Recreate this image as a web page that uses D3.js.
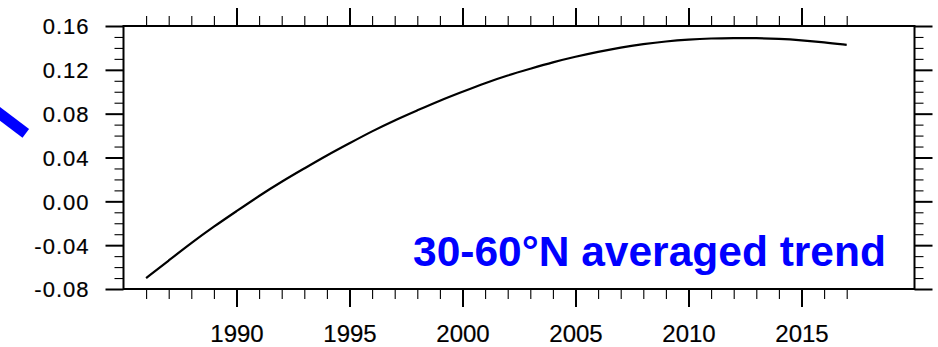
<!DOCTYPE html>
<html>
<head>
<meta charset="utf-8">
<script src="https://cdn.jsdelivr.net/npm/d3@7"></script>
<style>
  html, body { margin: 0; padding: 0; background: #fff; }
  svg { display: block; }
  text { font-family: "Liberation Sans", Arial, Helvetica, sans-serif; }
</style>
</head>
<body>
<svg id="chart" width="938" height="347"></svg>
<script>
// ---- data ----
const years = [1986,1987,1988,1989,1990,1991,1992,1993,1994,1995,1996,1997,1998,1999,2000,
               2001,2002,2003,2004,2005,2006,2007,2008,2009,2010,2011,2012,2013,2014,2015,2016,2017];
const trend = [-0.070,-0.054,-0.038,-0.023,-0.009,0.005,0.018,0.030,0.042,0.053,0.064,0.074,0.083,0.092,0.100,
               0.108,0.115,0.121,0.127,0.132,0.1365,0.1405,0.1435,0.146,0.1477,0.1487,0.149,0.149,0.1483,0.147,0.1452,0.1428];
const xMajorTicks = [1990,1995,2000,2005,2010,2015];
const xMajorLabels = ["1990","1995","2000","2005","2010","2015"];
const xMinorTicks = [1986,1987,1988,1989,1991,1992,1993,1994,1996,1997,1998,1999,2001,2002,2003,2004,
                     2006,2007,2008,2009,2011,2012,2013,2014,2016,2017];
const yMajorTicks = [-0.08,-0.04,0.00,0.04,0.08,0.12,0.16];
const yMajorLabels = ["-0.08","-0.04","0.00","0.04","0.08","0.12","0.16"];
const yMinorTicks = [-0.07,-0.06,-0.05,-0.03,-0.02,-0.01,0.01,0.02,0.03,0.05,0.06,0.07,0.09,0.10,0.11,0.13,0.14,0.15];
const xDomain = [1985, 2020];
const yDomain = [-0.08, 0.16];
const annotation = "30-60°N averaged trend";

// ---- layout ----
const svg = d3.select("#chart");
const L = 123.5, R = 914.5, T = 26, B = 289;
const x = d3.scaleLinear().domain(xDomain).range([L, R]);
const y = d3.scaleLinear().domain(yDomain).range([B, T]);

// blue annotation stroke (cropped arrow at left edge)
svg.append("line")
  .attr("x1", -6).attr("y1", 109.5).attr("x2", 25.8).attr("y2", 133.3)
  .attr("stroke", "#0000ff").attr("stroke-width", 11);

function styleAxis(g, w) {
  g.select(".domain").remove();
  g.selectAll(".tick line").attr("stroke", "#000").attr("stroke-width", w);
}
function styleLabels(g, size, spacing) {
  g.selectAll("text").attr("fill", "#000").attr("stroke", "#000").attr("stroke-width", 0.2)
    .style("font-size", size).style("letter-spacing", spacing);
}

// left axis
svg.append("g").attr("transform", `translate(${L},0)`)
  .call(d3.axisLeft(y).tickValues(yMinorTicks).tickSize(9).tickSizeOuter(0).tickFormat(""))
  .call(g => styleAxis(g, 1.1));
svg.append("g").attr("transform", `translate(${L},0)`)
  .call(d3.axisLeft(y).tickValues(yMajorTicks).tickSize(18).tickSizeOuter(0).tickPadding(16)
        .tickFormat((d, i) => yMajorLabels[i]))
  .call(g => styleAxis(g, 2))
  .call(g => styleLabels(g, "22px", "1px"))
  .call(g => g.selectAll("text").attr("dy", "0.36em"));

// right axis
svg.append("g").attr("transform", `translate(${R},0)`)
  .call(d3.axisRight(y).tickValues(yMinorTicks).tickSize(9).tickSizeOuter(0).tickFormat(""))
  .call(g => styleAxis(g, 1.1));
svg.append("g").attr("transform", `translate(${R},0)`)
  .call(d3.axisRight(y).tickValues(yMajorTicks).tickSize(18).tickSizeOuter(0).tickFormat(""))
  .call(g => styleAxis(g, 2));

// top axis
svg.append("g").attr("transform", `translate(0,${T})`)
  .call(d3.axisTop(x).tickValues(xMinorTicks).tickSize(10).tickSizeOuter(0).tickFormat(""))
  .call(g => styleAxis(g, 1.1));
svg.append("g").attr("transform", `translate(0,${T})`)
  .call(d3.axisTop(x).tickValues(xMajorTicks).tickSize(18).tickSizeOuter(0).tickFormat(""))
  .call(g => styleAxis(g, 2));

// bottom axis
svg.append("g").attr("transform", `translate(0,${B})`)
  .call(d3.axisBottom(x).tickValues(xMinorTicks).tickSize(10).tickSizeOuter(0).tickFormat(""))
  .call(g => styleAxis(g, 1.1));
svg.append("g").attr("transform", `translate(0,${B})`)
  .call(d3.axisBottom(x).tickValues(xMajorTicks).tickSize(18).tickSizeOuter(0).tickPadding(18)
        .tickFormat((d, i) => xMajorLabels[i]))
  .call(g => styleAxis(g, 2))
  .call(g => styleLabels(g, "24px", "0px"));

// frame
svg.append("rect")
  .attr("x", L).attr("y", T).attr("width", R - L).attr("height", B - T)
  .attr("fill", "none").attr("stroke", "#000").attr("stroke-width", 2);

// trend line
const line = d3.line()
  .x((d, i) => x(years[i]))
  .y(d => y(d))
  .curve(d3.curveBasis);
svg.append("path")
  .datum(trend)
  .attr("d", line)
  .attr("fill", "none")
  .attr("stroke", "#000")
  .attr("stroke-width", 2.2);

// annotation text
svg.append("text")
  .attr("x", 413).attr("y", 266)
  .attr("fill", "#0000ff")
  .style("font-size", "42.5px")
  .style("font-weight", "bold")
  .text(annotation);
</script>
</body>
</html>
